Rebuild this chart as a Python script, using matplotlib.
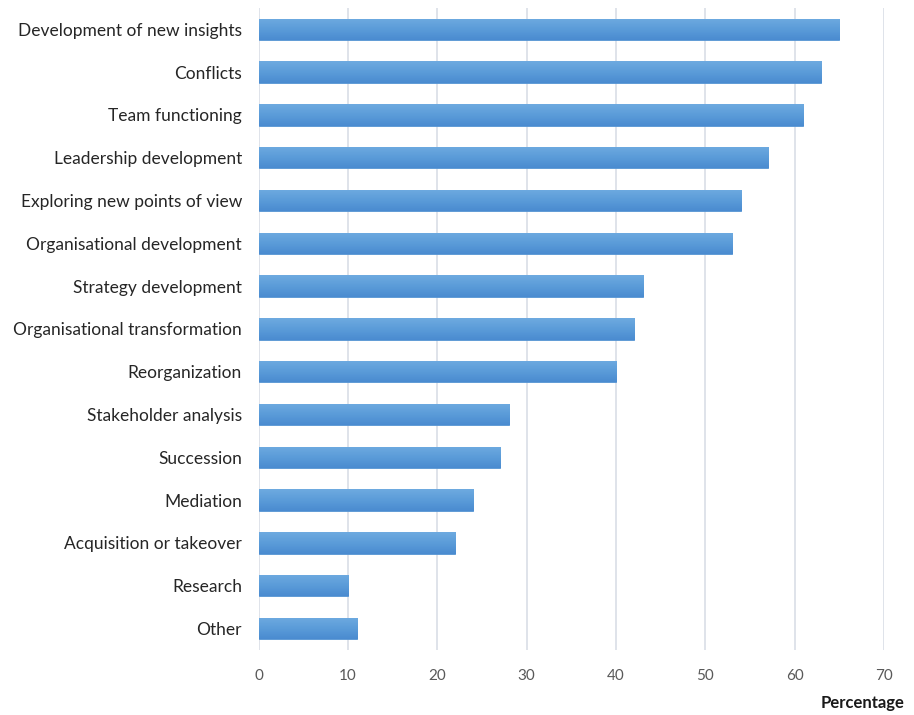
import numpy as np
import matplotlib.pyplot as plt
from matplotlib.colors import LinearSegmentedColormap

categories = ['Development of new insights', 'Conflicts', 'Team functioning',
              'Leadership development', 'Exploring new points of view',
              'Organisational development', 'Strategy development',
              'Organisational transformation', 'Reorganization',
              'Stakeholder analysis', 'Succession', 'Mediation',
              'Acquisition or takeover', 'Research', 'Other']
values = [65, 63, 61, 57, 54, 53, 43, 42, 40, 28, 27, 24, 22, 10, 11]
xticks = [0, 10, 20, 30, 40, 50, 60, 70]

plt.rcParams['font.family'] = ['Lato', 'DejaVu Sans']

fig = plt.figure(figsize=(9.14, 7.15), dpi=100)
ax = fig.add_axes([0.283, 0.091, 0.684, 0.898])

pos = list(range(len(categories)))
bars = ax.barh(pos, values, height=0.5, color='#5a9bd8', edgecolor='#5594d3',
               linewidth=0.6, zorder=3)

# vertical gradient inside each bar, light on top, darker below
cmap = LinearSegmentedColormap.from_list('bar', ['#6eaae0', '#5b9cd9', '#4a8bd0'])
grad = np.linspace(0, 1, 64).reshape(-1, 1)
for b in bars:
    x0, y0, w, h = b.get_x(), b.get_y(), b.get_width(), b.get_height()
    im = ax.imshow(grad, cmap=cmap, aspect='auto', zorder=3.5,
                   extent=[x0, x0 + w, y0 + h, y0], origin='upper')
    im.set_clip_path(b)

ax.set_ylim(len(categories) - 0.5, -0.5)
ax.set_xlim(0, 70)
ax.set_xticks(xticks)
ax.set_yticks(pos)
ax.set_yticklabels(categories, fontsize=12.5, color='#262626')
ax.tick_params(axis='x', labelsize=11, colors='#595959', length=0, pad=14)
ax.tick_params(axis='y', length=0, pad=12)
ax.grid(axis='x', color='#d9dee6', linewidth=1.2, zorder=0)
ax.set_aspect('auto')
for s in ax.spines.values():
    s.set_visible(False)

fig.text(0.99, 0.005, 'Percentage', ha='right', va='bottom', fontsize=12,
         fontweight='bold', color='#1a1a1a')

fig.savefig('out.png', dpi=100)
